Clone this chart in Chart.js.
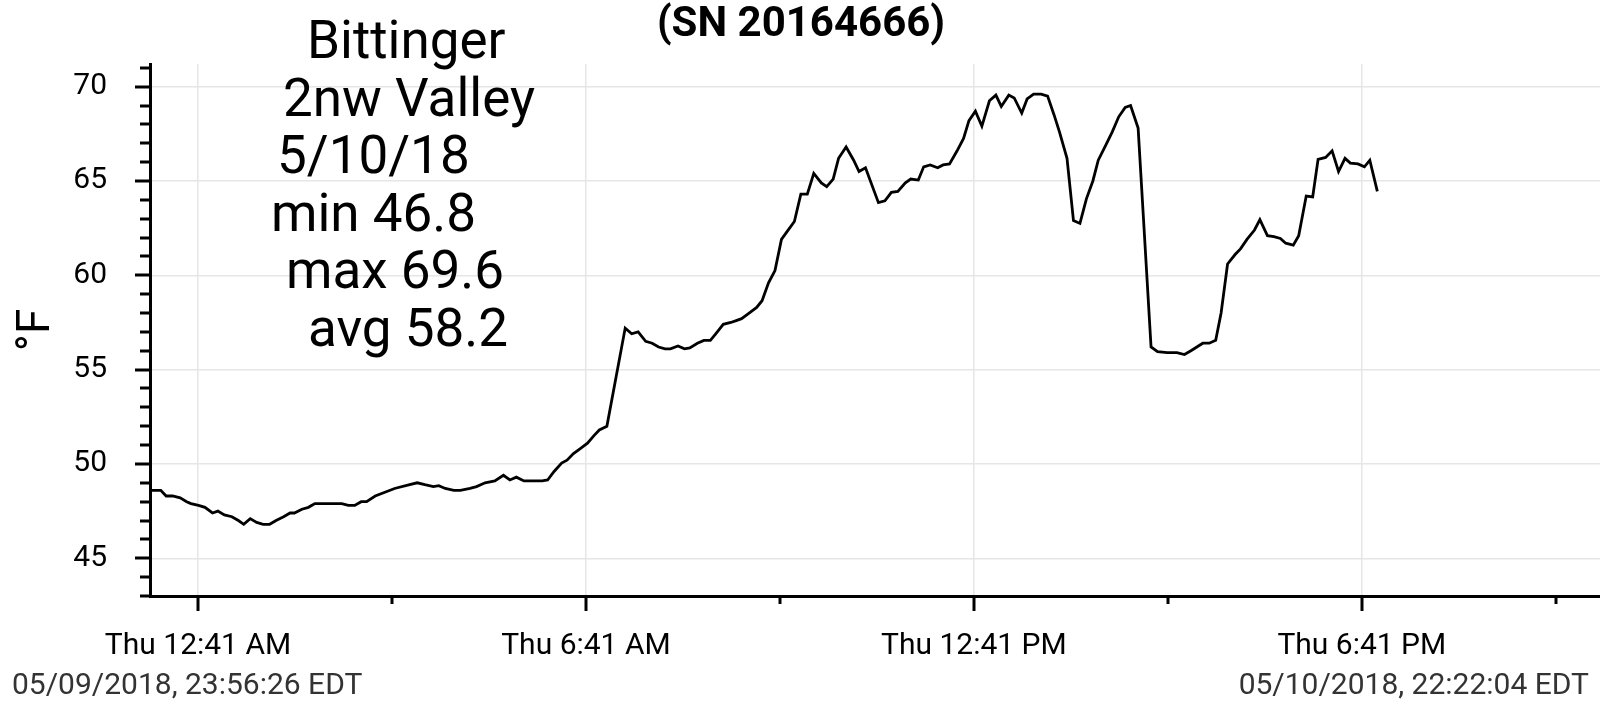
<!DOCTYPE html>
<html>
<head>
<meta charset="utf-8">
<script src="https://cdn.jsdelivr.net/npm/chart.js@4.4.0/dist/chart.umd.min.js"></script>
<style>
  html, body { margin: 0; padding: 0; background: #fff; }
  canvas { display: block; }
</style>
</head>
<body>
<canvas id="tempChart" width="1600" height="717"></canvas>
<script>
// minutes after the first reading (05/09/2018 23:56:26)
const minutes = [
  0, 10, 15, 21, 28, 34, 38, 45, 51, 58,
  63, 69, 76, 82, 87, 93, 99, 105, 111, 117,
  124, 130, 134, 141, 147, 153, 165, 178, 184, 190,
  196, 201, 209, 218, 227, 241, 248, 255, 263, 268,
  274, 282, 288, 297, 303, 311, 320, 328, 334, 340,
  347, 353, 364, 369, 375, 382, 387, 393, 399, 406,
  412, 417, 424, 441, 447, 453, 460, 466, 472, 478,
  483, 490, 496, 501, 508, 514, 520, 525, 532, 539,
  544, 549, 556, 563, 568, 574, 580, 586, 591, 598,
  604, 610, 616, 623, 628, 634, 639, 646, 653, 658,
  664, 676, 682, 688, 694, 701, 706, 713, 718, 724,
  731, 736, 742, 749, 755, 760, 766, 772, 779, 785,
  790, 797, 802, 809, 814, 820, 827, 833, 839, 844,
  851, 857, 863, 869, 875, 880, 887, 893, 899, 905,
  910, 917, 929, 935, 944, 953, 960, 966, 977, 983,
  989, 994, 1000, 1007, 1012, 1018, 1025, 1030, 1037, 1043,
  1049, 1054, 1061, 1066, 1073, 1079, 1084, 1091, 1097, 1103,
  1109, 1114, 1121, 1127, 1132, 1139
];
const tempF = [
  48.6, 48.6, 48.3, 48.3, 48.2, 48.0, 47.9, 47.8, 47.7, 47.4,
  47.5, 47.3, 47.2, 47.0, 46.8, 47.1, 46.9, 46.8, 46.8, 47.0,
  47.2, 47.4, 47.4, 47.6, 47.7, 47.9, 47.9, 47.9, 47.8, 47.8,
  48.0, 48.0, 48.3, 48.5, 48.7, 48.9, 49.0, 48.9, 48.8, 48.85,
  48.7, 48.6, 48.6, 48.7, 48.8, 49.0, 49.1, 49.4, 49.15, 49.3,
  49.1, 49.1, 49.1, 49.15, 49.6, 50.05, 50.2, 50.55, 50.8, 51.1,
  51.5, 51.8, 52.0, 57.2, 56.9, 57.0, 56.5, 56.4, 56.2, 56.1,
  56.1, 56.25, 56.1, 56.15, 56.4, 56.55, 56.55, 56.9, 57.4, 57.5,
  57.6, 57.7, 58.0, 58.3, 58.65, 59.6, 60.25, 61.9, 62.3, 62.85,
  64.3, 64.3, 65.4, 64.9, 64.7, 65.1, 66.2, 66.8, 66.1, 65.5,
  65.7, 63.85, 63.95, 64.4, 64.45, 64.9, 65.1, 65.05, 65.75, 65.85,
  65.7, 65.85, 65.9, 66.6, 67.25, 68.2, 68.7, 67.9, 69.25, 69.55,
  68.95, 69.55, 69.4, 68.6, 69.35, 69.6, 69.6, 69.5, 68.5, 67.6,
  66.2, 62.9, 62.75, 64.05, 65.0, 66.1, 66.9, 67.6, 68.4, 68.9,
  69.0, 67.8, 56.2, 55.95, 55.9, 55.9, 55.8, 56.0, 56.4, 56.4,
  56.55, 58.0, 60.6, 61.1, 61.4, 61.9, 62.4, 62.95, 62.1, 62.05,
  61.95, 61.7, 61.6, 62.1, 64.2, 64.15, 66.15, 66.25, 66.6, 65.5,
  66.2, 65.95, 65.9, 65.75, 66.1, 64.45
];

// x ticks every 3 h from Thu 12:41 AM (44.57 min after start), labels every 6 h
const xTickMinutes = [44.57, 224.57, 404.57, 584.57, 764.57, 944.57, 1124.57, 1304.57];
const xTickLabels = ["Thu 12:41 AM", "", "Thu 6:41 AM", "", "Thu 12:41 PM", "", "Thu 6:41 PM", ""];
const yTickValues = [43, 44, 45, 46, 47, 48, 49, 50, 51, 52, 53, 54, 55, 56, 57,
  58, 59, 60, 61, 62, 63, 64, 65, 66, 67, 68, 69, 70, 71];
const spanMinutes = 1345.63; // 23:56:26 -> 22:22:04

const titleText = "(SN 20164666)";
const noteLines = ["Bittinger", "2nw Valley", "5/10/18", "min 46.8", "max 69.6", "avg 58.2"];
const noteX = [307, 283, 277, 271, 286, 308];
const startLabel = "05/09/2018, 23:56:26 EDT";
const endLabel = "05/10/2018, 22:22:04 EDT";

const gridColor = "#e6e6e6";
Chart.defaults.font.family = "Roboto";

// extra text and the long/short tick marks
const decorations = {
  id: "decorations",
  afterDraw(chart) {
    const c = chart.ctx;
    const xs = chart.scales.x;
    const ys = chart.scales.y;
    const area = chart.chartArea;
    c.save();
    c.strokeStyle = "#000";
    c.lineWidth = 3;
    xTickMinutes.forEach((v, i) => {
      const px = Math.round(xs.getPixelForValue(v));
      const len = xTickLabels[i] ? 15 : 8;
      c.beginPath();
      c.moveTo(px, area.bottom);
      c.lineTo(px, area.bottom + len);
      c.stroke();
    });
    yTickValues.forEach(v => {
      const py = Math.round(ys.getPixelForValue(v));
      const len = v % 5 === 0 ? 15 : 10;
      c.beginPath();
      c.moveTo(area.left, py);
      c.lineTo(area.left - len, py);
      c.stroke();
    });

    c.fillStyle = "#000";
    c.textBaseline = "middle";
    c.textAlign = "center";
    c.font = "bold 42px Roboto";
    c.fillText(titleText, 801, 25);

    c.textAlign = "left";
    c.font = "53px Roboto";
    noteLines.forEach((t, i) => {
      c.fillText(t, noteX[i], 45 + i * 57.5);
    });

    c.fillStyle = "#333";
    c.font = "30px Roboto";
    c.fillText(startLabel, 12, 686);
    c.textAlign = "right";
    c.fillText(endLabel, 1589, 686);
    c.restore();
  }
};

new Chart(document.getElementById("tempChart"), {
  type: "line",
  data: {
    datasets: [{
      data: minutes.map((m, i) => ({ x: m, y: tempF[i] })),
      borderColor: "#000",
      borderWidth: 2.8,
      pointRadius: 0,
      tension: 0,
      fill: false
    }]
  },
  options: {
    responsive: false,
    animation: false,
    devicePixelRatio: 1,
    layout: { padding: { top: 64, left: 0, right: 0, bottom: 0 } },
    plugins: {
      legend: { display: false },
      tooltip: { enabled: false }
    },
    scales: {
      x: {
        type: "linear",
        min: 0,
        max: spanMinutes,
        afterBuildTicks: scale => {
          scale.ticks = xTickMinutes.map(v => ({ value: v }));
        },
        afterFit: scale => { scale.height = 121; },
        ticks: {
          autoSkip: false,
          maxRotation: 0,
          padding: 32,
          color: "#000",
          font: { size: 30 },
          callback: (value, index) => xTickLabels[index]
        },
        grid: {
          drawTicks: false,
          color: ctx => (ctx.tick && xTickLabels[ctx.index] ? gridColor : "transparent"),
          lineWidth: 1.5
        },
        border: { display: true, color: "#000", width: 3 }
      },
      y: {
        min: 43,
        max: 71.2,
        afterBuildTicks: scale => {
          scale.ticks = yTickValues.map(v => ({ value: v }));
        },
        afterFit: scale => { scale.width = 150; },
        ticks: {
          autoSkip: false,
          padding: 43,
          color: "#000",
          font: { size: 30 },
          callback: value => (value % 5 === 0 ? String(value) : "")
        },
        grid: {
          drawTicks: false,
          color: ctx => (ctx.tick && ctx.tick.value % 5 === 0 ? gridColor : "transparent"),
          lineWidth: 1.5
        },
        border: { display: true, color: "#000", width: 3 },
        title: {
          display: true,
          text: "°F",
          color: "#000",
          font: { size: 46 },
          padding: { top: 10, bottom: 0 }
        }
      }
    }
  },
  plugins: [decorations]
});
</script>
</body>
</html>
